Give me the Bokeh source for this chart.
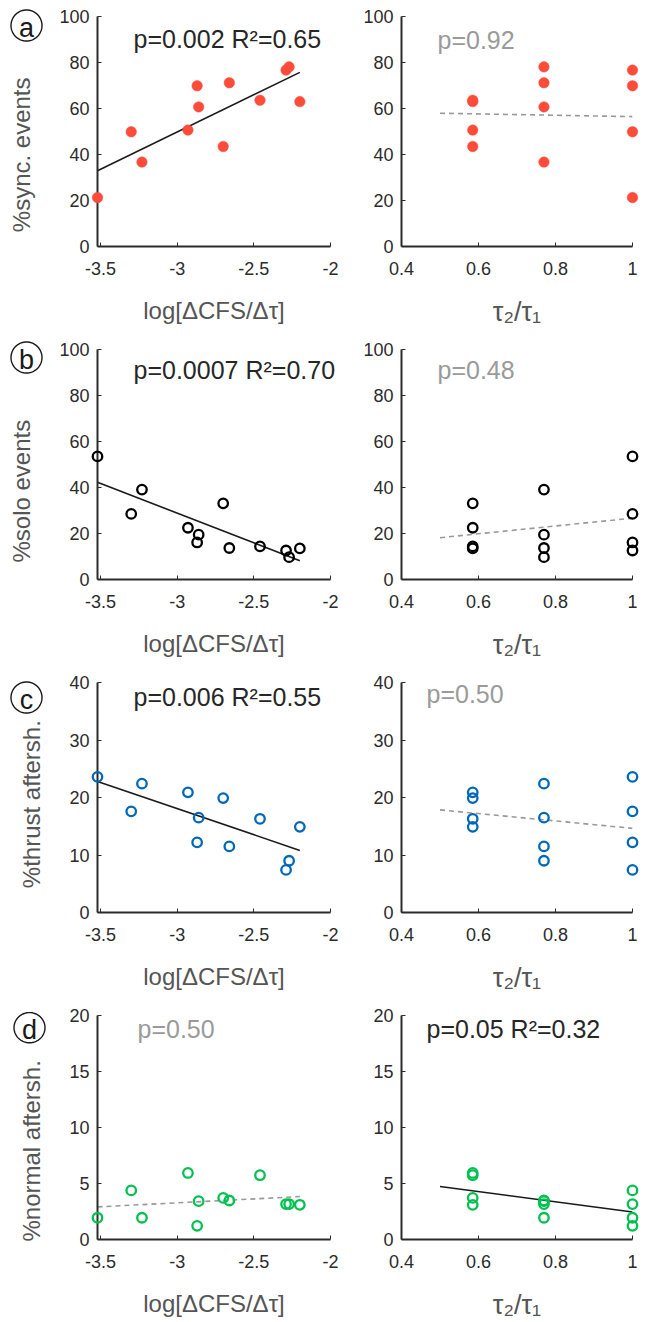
import numpy as np
from bokeh.plotting import figure
from bokeh.layouts import column, row
from bokeh.models import Range1d, FixedTicker, NumeralTickFormatter
from bokeh.core.properties import value
from bokeh.embed import file_html
from bokeh.resources import INLINE

# ---------------- data ----------------
log_cfs = [-3.52, -3.30, -3.23, -2.93, -2.87, -2.86, -2.70, -2.66, -2.46, -2.29, -2.27, -2.20]
tau_ratio = [1.0, 1.0, 0.77, 0.585, 1.0, 0.77, 0.585, 0.77, 0.585, 1.0, 0.77, 0.585]

sync_events = [21.3, 49.9, 36.7, 50.6, 69.9, 60.7, 43.5, 71.2, 63.6, 76.7, 78.1, 63.0]
solo_events = [53.5, 28.5, 39.1, 22.5, 16.1, 19.5, 33.1, 13.7, 14.4, 12.6, 9.7, 13.5]
thrust_aftersh = [23.6, 17.6, 22.4, 20.9, 12.2, 16.5, 19.9, 11.5, 16.3, 7.4, 9.0, 14.9]
normal_aftersh = [1.94, 4.38, 1.94, 5.94, 1.22, 3.42, 3.71, 3.48, 5.74, 3.16, 3.16, 3.10]

row_letters = ["a", "b", "c", "d"]
y_labels = ["%sync. events", "%solo events", "%thrust aftersh.", "%normal aftersh."]
y_max = [100, 100, 40, 20]
y_ticks = [[0, 20, 40, 60, 80, 100], [0, 20, 40, 60, 80, 100], [0, 10, 20, 30, 40], [0, 5, 10, 15, 20]]
x_ticks_left = [-3.5, -3, -2.5, -2]
x_ticks_right = [0.4, 0.6, 0.8, 1]

stats_left = ["p=0.002 R²=0.65", "p=0.0007 R²=0.70", "p=0.006 R²=0.55", "p=0.50"]
stats_right = ["p=0.92", "p=0.48", "p=0.50", "p=0.05 R²=0.32"]
signif_left = [True, True, True, False]
signif_right = [False, False, False, True]

series = [sync_events, solo_events, thrust_aftersh, normal_aftersh]
colors = ["#ff4b3a", "#000000", "#0068b8", "#00c050"]
filled = [True, False, False, False]

# ---------------- styling ----------------
FONT = "Liberation Sans"
AXIS_COL = "#2b2b2b"
TICK_TXT = "#2b2b2b"
LABEL_COL = "#555555"
DARK_TXT = "#262626"
GRAY_TXT = "#9a9a9a"

row_heights = [333, 333, 333, 323]
FRAME_H = 230
TOP = 16
LEFT_W, RIGHT_W = 345, 317
L_BORDER_L, L_FRAME_W = 97, 233
R_BORDER_L, R_FRAME_W = 56, 231

# stat text pixel offsets (from frame left, from frame top)
stat_off_left = [(36, 22), (36, 20), (36, 14), (40, 14)]
stat_off_right = [(36, 23), (36, 20), (25, 11), (25, 14)]
letter_off = [(-71, 9), (-71, 8), (-71, 15), (-68, 12.5)]
# shift of the y label along the axis (number of no-break spaces, + = downwards)
ylabel_pad = [7, 8, 2, 7]


def style_fig(p, xlabel, ylabel, xfont):
    p.outline_line_color = None
    p.xgrid.visible = False
    p.ygrid.visible = False
    p.background_fill_color = "white"
    p.border_fill_color = "white"
    for ax in (p.xaxis[0], p.yaxis[0]):
        ax.axis_line_color = AXIS_COL
        ax.axis_line_width = 2
        ax.major_tick_in = 4
        ax.major_tick_out = 0
        ax.major_tick_line_color = AXIS_COL
        ax.major_tick_line_width = 1
        ax.minor_tick_line_color = None
        ax.major_label_text_font = FONT
        ax.major_label_text_font_size = "18px"
        ax.major_label_text_color = TICK_TXT
        ax.axis_label_text_font = FONT
        ax.axis_label_text_font_size = "24px"
        ax.axis_label_text_font_style = "normal"
        ax.axis_label_text_color = LABEL_COL
        ax.formatter = NumeralTickFormatter(format="0.[0]")
    p.xaxis[0].axis_label = xlabel
    p.xaxis[0].axis_label_text_font_size = xfont
    p.yaxis[0].axis_label = ylabel
    p.xaxis[0].major_label_standoff = 15
    p.xaxis[0].axis_label_standoff = 19
    p.yaxis[0].major_label_standoff = 8
    p.yaxis[0].axis_label_standoff = 21


def make_panel(i, side):
    h = row_heights[i]
    ymax = y_max[i]
    if side == "left":
        xs = log_cfs
        x0, x1 = -3.52, -2.0
        w, bl, fw = LEFT_W, L_BORDER_L, L_FRAME_W
        xlabel = "log[ΔCFS/Δτ]"
        xfont = "24px"
        pad = ylabel_pad[i]
        nb = "\u00a0" * abs(pad)
        ylabel = (y_labels[i] + nb) if pad > 0 else (nb + y_labels[i])
        xt = x_ticks_left
        txt = stats_left[i]
        sig = signif_left[i]
        off = stat_off_left[i]
    else:
        xs = tau_ratio
        x0, x1 = 0.4, 1.0
        w, bl, fw = RIGHT_W, R_BORDER_L, R_FRAME_W
        xlabel = "τ₂/τ₁"
        xfont = "27px"
        ylabel = ""
        xt = x_ticks_right
        txt = stats_right[i]
        sig = signif_right[i]
        off = stat_off_right[i]

    p = figure(width=w, height=h, output_backend="svg", toolbar_location=None,
               x_range=Range1d(x0, x1), y_range=Range1d(0, ymax),
               min_border_left=bl, min_border_right=w - bl - fw,
               min_border_top=TOP, min_border_bottom=h - TOP - FRAME_H)
    style_fig(p, xlabel, ylabel, xfont)
    p.xaxis[0].ticker = FixedTicker(ticks=xt)
    p.yaxis[0].ticker = FixedTicker(ticks=y_ticks[i])

    ys = series[i]
    # linear regression line
    slope, icpt = np.polyfit(np.array(xs), np.array(ys), 1)
    if side == "left":
        lx = np.array([min(xs), max(xs)])
    else:
        lx = np.array([0.5, 1.0])
    ly = slope * lx + icpt
    if sig:
        p.line(lx, ly, line_color="#1a1a1a", line_width=1.6)
    else:
        p.line(lx, ly, line_color="#999999", line_width=1.6, line_dash="5 4")

    if filled[i]:
        p.scatter(xs, ys, marker="circle", size=10.5, fill_color=colors[i],
                  line_color=colors[i], line_width=0.5, level="overlay")
    else:
        p.scatter(xs, ys, marker="circle", size=9.5, fill_color=None,
                  line_color=colors[i], line_width=2.3, level="overlay")

    dx = (x1 - x0) / fw
    dy = ymax / FRAME_H
    p.text([x0 + off[0] * dx], [ymax - off[1] * dy], text=[txt],
           text_font=value(FONT), text_font_size="25px",
           text_color=DARK_TXT if sig else GRAY_TXT,
           text_baseline="middle", text_align="left", level="overlay")
    if side == "left":
        lo = letter_off[i]
        cx = x0 + lo[0] * dx
        cy = ymax - lo[1] * dy
        t = np.linspace(0, 2 * np.pi, 73)
        r = 15.5
        p.line(cx + r * np.cos(t) * dx, cy + r * np.sin(t) * dy,
               line_color="#1a1a1a", line_width=1.4, level="overlay")
        p.text([cx], [cy - 2.5 * dy], text=[row_letters[i]], text_font=value(FONT),
               text_font_size="27px", text_color="#1a1a1a", text_align="center",
               text_baseline="middle", level="overlay")
    return p


rows = []
for i in range(4):
    rows.append(row(make_panel(i, "left"), make_panel(i, "right")))
layout = column(*rows)

open("out.html", "w").write(file_html(layout, INLINE))
